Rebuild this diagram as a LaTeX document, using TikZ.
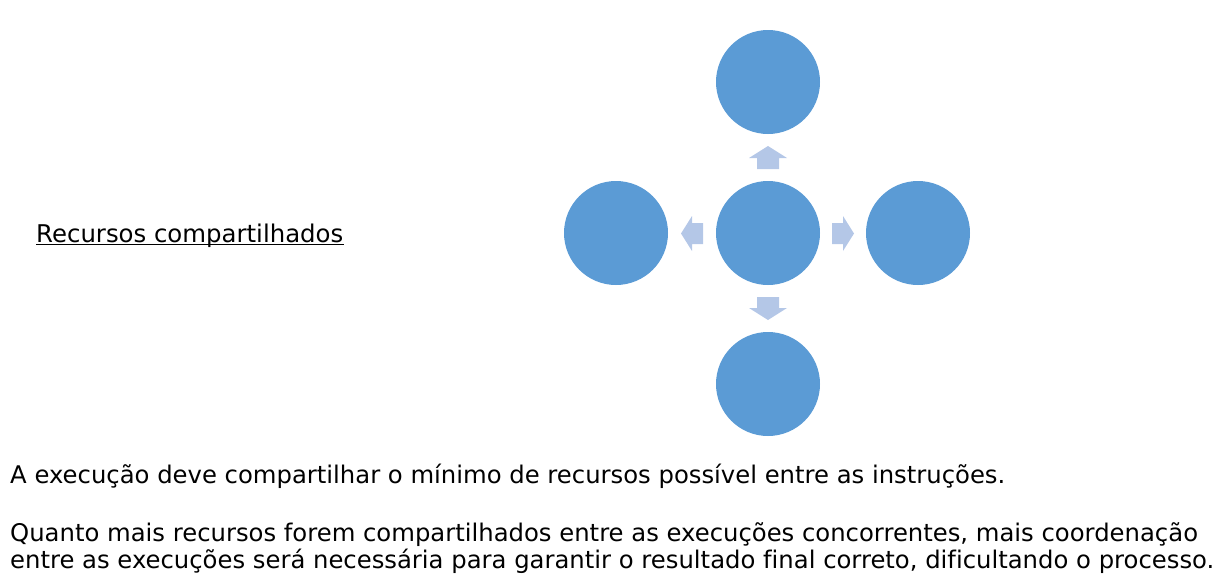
\documentclass[tikz,border=0pt]{standalone}
\usepackage{fontspec}
\setmainfont[Ligatures=NoCommon]{DejaVu Sans}
\usetikzlibrary{calc}
\definecolor{circblue}{HTML}{5B9BD5}
\definecolor{arrblue}{HTML}{B4C7E7}
\begin{document}
\begin{tikzpicture}[x=1pt,y=-1pt,
  res/.style={circle,fill=circblue,minimum size=104pt,inner sep=0pt},
  blockarrow/.style={fill=arrblue,draw=none},
  body/.style={anchor=base west,inner sep=0pt,font=\fontsize{24.3}{28}\selectfont}]
\useasboundingbox (0,0) rectangle (1221,587);
\node[res] (c) at (768,233) {};
\node[res] (t) at (768,82) {};
\node[res] (b) at (768,384) {};
\node[res] (l) at (616,233) {};
\node[res] (r) at (918,233) {};
% block arrows
\fill[blockarrow] (757,169) -- (757,158) -- (749,158) -- (768,146) -- (787,158) -- (779,158) -- (779,169) -- cycle;
\fill[blockarrow] (757,297) -- (757,308) -- (749,308) -- (768,320) -- (787,308) -- (779,308) -- (779,297) -- cycle;
\fill[blockarrow] (832,223) -- (843,223) -- (843,216) -- (854,233.5) -- (843,251) -- (843,244) -- (832,244) -- cycle;
\fill[blockarrow] (703,223) -- (692,223) -- (692,216) -- (681,233.5) -- (692,251) -- (692,244) -- (703,244) -- cycle;
\node[anchor=base west,inner sep=0pt,font=\fontsize{24.4}{28}\selectfont] (title) at (36,242) {Recursos compartilhados};
\draw[line width=1.3pt] ($(title.base west)+(0,2.5)$) -- ($(title.base east)+(0,2.5)$);
\node[body] (p1) at (10,483) {A execução deve compartilhar o mínimo de recursos possível entre as instruções.};
\node[body] (p2) at (10,541) {Quanto mais recursos forem compartilhados entre as execuções concorrentes, mais coordenação};
\node[body] (p3) at (10,568) {entre as execuções será necessária para garantir o resultado final correto, dificultando o processo.};
\end{tikzpicture}
\end{document}
